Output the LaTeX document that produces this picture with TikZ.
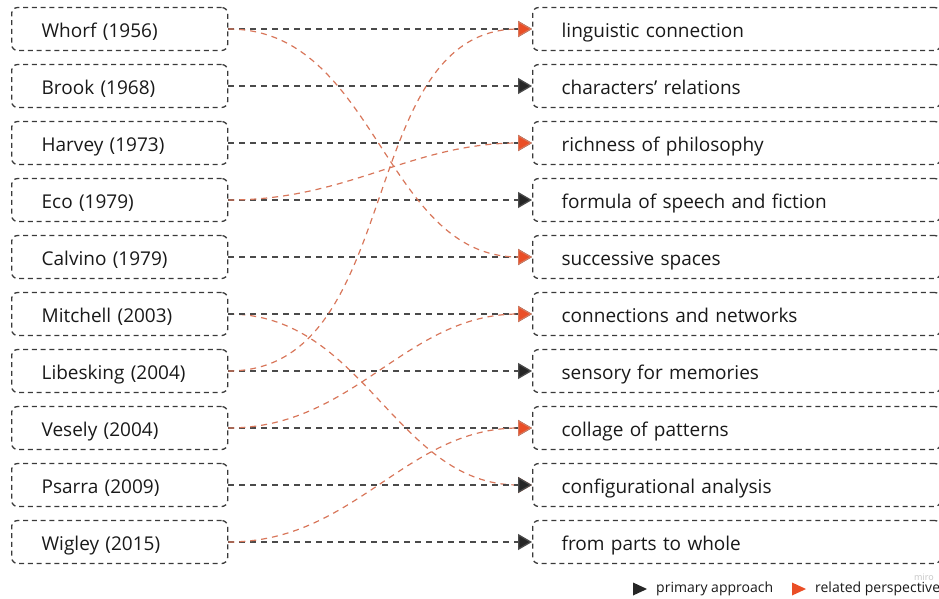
\documentclass[tikz,border=0pt]{standalone}
\usepackage{fontspec}
\setmainfont{Open Sans}
\usetikzlibrary{arrows.meta,calc,positioning}
\definecolor{lineGray}{HTML}{3A3A3A}
\definecolor{arrowGray}{HTML}{4A4A4A}
\definecolor{tipGray}{HTML}{262626}
\definecolor{lineOrange}{HTML}{D8765A}
\definecolor{tipOrange}{HTML}{EA4E26}
\definecolor{miroGray}{HTML}{C4C4C4}

\begin{document}
\begin{tikzpicture}[x=1pt,y=-1pt,
    box/.style={draw=lineGray,line width=1.3pt,dash pattern=on 5pt off 3.8pt,
      rounded corners=6pt,minimum height=43pt,inner ysep=0pt,align=left,
      text height=18pt,text depth=1.4pt,
      anchor=west,font=\fontsize{19}{22}\selectfont,text=black!90},
    source/.style={box,inner xsep=30pt,text width=156pt},
    target/.style={box,inner xsep=29pt,text width=350pt},
    primary/.style={draw=arrowGray,line width=1.3pt,dash pattern=on 6pt off 5pt,
      -{Triangle[length=14pt,width=16pt,fill=tipGray]}},
    related/.style={draw=lineOrange,line width=1.2pt,dash pattern=on 6pt off 5pt,
      -{Triangle[length=14pt,width=16pt,fill=tipOrange]}},
    legend/.style={anchor=west,inner sep=0pt,font=\fontsize{14}{16}\selectfont,text=black!90}]
      \useasboundingbox (0,0) rectangle (939,598);
      \def\lx{11}
      \def\rx{532}
      \def\dy{57}
      \def\yo{29}

      % authors
      \node[source] (whorf) at (\lx,\yo) {Whorf (1956)};
      \node[source] (brook) at (\lx,\yo+\dy) {Brook (1968)};
      \node[source] (harvey) at (\lx,\yo+2*\dy) {Harvey (1973)};
      \node[source] (eco) at (\lx,\yo+3*\dy) {Eco (1979)};
      \node[source] (calvino) at (\lx,\yo+4*\dy) {Calvino (1979)};
      \node[source] (mitchell) at (\lx,\yo+5*\dy) {Mitchell (2003)};
      \node[source] (libesking) at (\lx,\yo+6*\dy) {Libesking (2004)};
      \node[source] (vesely) at (\lx,\yo+7*\dy) {Vesely (2004)};
      \node[source] (psarra) at (\lx,\yo+8*\dy) {Psarra (2009)};
      \node[source] (wigley) at (\lx,\yo+9*\dy) {Wigley (2015)};

      % themes
      \node[target] (linguistic) at (\rx,\yo) {linguistic connection};
      \node[target] (characters) at (\rx,\yo+\dy) {characters' relations};
      \node[target] (richness) at (\rx,\yo+2*\dy) {richness of philosophy};
      \node[target] (formula) at (\rx,\yo+3*\dy) {formula of speech and fiction};
      \node[target] (successive) at (\rx,\yo+4*\dy) {successive spaces};
      \node[target] (connections) at (\rx,\yo+5*\dy) {connections and networks};
      \node[target] (sensory) at (\rx,\yo+6*\dy) {sensory for memories};
      \node[target] (collage) at (\rx,\yo+7*\dy) {collage of patterns};
      \node[target] (configurational) at (\rx,\yo+8*\dy) {configurational analysis};
      \node[target] (parts) at (\rx,\yo+9*\dy) {from parts to whole};

      \draw[related] (mitchell.east) to[out=0,in=180] (configurational.west);
      \draw[primary] (whorf.east) -- (linguistic.west);
      \draw[primary] (brook.east) -- (characters.west);
      \draw[primary] (harvey.east) -- (richness.west);
      \draw[primary] (eco.east) -- (formula.west);
      \draw[primary] (calvino.east) -- (successive.west);
      \draw[primary] (mitchell.east) -- (connections.west);
      \draw[primary] (libesking.east) -- (sensory.west);
      \draw[primary] (vesely.east) -- (collage.west);
      \draw[primary] (psarra.east) -- (configurational.west);
      \draw[primary] (wigley.east) -- (parts.west);

      % related perspectives
      \draw[related] (whorf.east) to[out=0,in=180] (successive.west);
      \draw[related] (eco.east) to[out=0,in=180] (richness.west);
      \draw[related] (libesking.east) to[out=0,in=180] (linguistic.west);
      \draw[related] (vesely.east) to[out=0,in=180] (connections.west);
      \draw[related] (wigley.east) to[out=0,in=180] (collage.west);

      % legend
      \node[legend] (primaryLabel) at (656,589) {primary approach};
      \node[legend] (relatedLabel) at (815,589) {related perspective};
      \fill[tipGray] ($(primaryLabel.west)+(-23,-6.5)$) --++ (14,6.5) --++ (-14,6.5) -- cycle;
      \fill[tipOrange] ($(relatedLabel.west)+(-23,-6.5)$) --++ (14,6.5) --++ (-14,6.5) -- cycle;
      \node[anchor=south,inner sep=0pt,text=miroGray,font=\fontsize{9}{10}\selectfont] (miro) at (924,581) {miro};
\end{tikzpicture}
\end{document}
